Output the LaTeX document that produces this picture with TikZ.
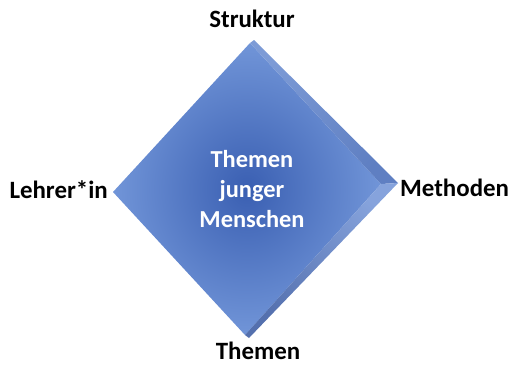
\documentclass[tikz,border=0pt]{standalone}
\usepackage{fontspec}
\setmainfont{Carlito}
\definecolor{dblue}{HTML}{3A5FB2}
\definecolor{lblue}{HTML}{7195D8}
\definecolor{bandA}{HTML}{5F7FC2}
\definecolor{bandB}{HTML}{7D9BD6}
\definecolor{bandC}{HTML}{5470AE}
\definecolor{bandD}{HTML}{86A3DC}
\begin{document}
\begin{tikzpicture}[x=1bp,y=-1bp,
  lab/.style={font=\bfseries\fontsize{25}{29}\selectfont, text=black, inner sep=0pt},
  ctr/.style={font=\bfseries\fontsize{24.5}{30}\selectfont, text=white, align=center, inner sep=0pt}]
\useasboundingbox (0,0) rectangle (510,367);
% main face
\shade[inner color=dblue, outer color=lblue] (250,43) -- (381,184) -- (245,335) -- (113,192) -- cycle;
% top-right bevel
\shade[left color=bandB, right color=bandA, shading angle=45] (250,43) -- (254,40) -- (398,183) -- (381,184) -- cycle;
% bottom-right bevel
\shade[left color=bandD, right color=bandC, shading angle=-45] (381,184) -- (398,183) -- (249,338) -- (245,335) -- cycle;
\node[ctr] (c) at (252,189) {Themen\\junger\\Menschen};
\node[lab] (s) at (252,19) {Struktur};
\node[lab, anchor=west] (m) at (400,188) {Methoden};
\node[lab, anchor=east] (l) at (108,190) {Lehrer*in};
\node[lab] (t) at (258,351) {Themen};
\end{tikzpicture}
\end{document}
